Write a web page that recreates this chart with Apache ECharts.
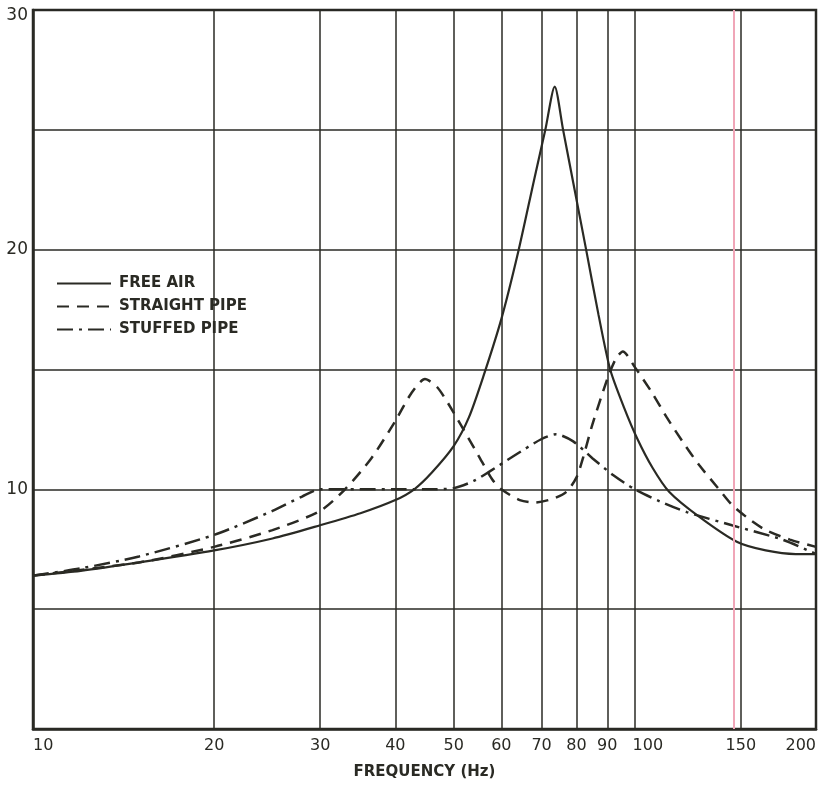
<!DOCTYPE html>
<html>
<head>
<meta charset="utf-8">
<script src="https://cdn.jsdelivr.net/npm/echarts@6/dist/echarts.min.js"></script>
<style>
  html, body { margin: 0; padding: 0; background: #fff; }
  #chart { width: 822px; height: 785px; }
</style>
</head>
<body>
<div id="chart"></div>
<script>
// frequency (Hz) / response pairs
const freeAirHz = [10, 12, 15, 20, 25, 30, 35, 40, 43, 46, 50, 53, 56, 60, 64, 68, 71, 73.6, 76, 79, 83, 87, 91, 96, 101, 107, 114, 128, 148, 165, 185, 200];
const freeAirVal = [6.4, 6.6, 6.95, 7.45, 7.95, 8.5, 9.0, 9.55, 10.0, 10.7, 11.8, 13.0, 14.7, 17.1, 19.9, 22.9, 25.0, 26.8, 25.0, 22.8, 20.0, 17.3, 15.0, 13.4, 12.1, 10.9, 9.9, 8.85, 7.8, 7.45, 7.3, 7.3];

const straightHz = [10, 15, 20, 25, 30, 33, 36.5, 40, 42.5, 44.8, 47, 50, 55, 58, 60, 64.4, 68, 73, 77, 80, 82, 85, 90, 93, 95.5, 100, 107, 113, 120, 128, 137, 145, 155, 165, 181, 200];
const straightVal = [6.4, 6.95, 7.6, 8.3, 9.1, 10.0, 11.3, 12.85, 14.0, 14.6, 14.25, 13.2, 11.4, 10.4, 10.0, 9.55, 9.45, 9.6, 9.9, 10.5, 11.3, 12.7, 14.6, 15.45, 15.75, 15.1, 14.0, 13.0, 12.0, 11.0, 10.1, 9.35, 8.75, 8.3, 7.9, 7.6];

const stuffedHz = [10, 12, 15, 20, 25, 28, 30, 35, 40, 45, 50, 54, 57.4, 63, 70, 74, 79, 85, 92, 100, 110, 122, 145, 176, 200];
const stuffedVal = [6.4, 6.7, 7.2, 8.1, 9.1, 9.7, 10.0, 10.0, 10.0, 10.0, 10.05, 10.35, 10.75, 11.4, 12.1, 12.3, 12.0, 11.3, 10.6, 10.0, 9.5, 9.05, 8.5, 7.9, 7.3];

const xTicks = [10, 20, 30, 40, 50, 60, 70, 80, 90, 100, 150, 200];
const yLabels = [10, 20, 30];

const ink = '#2a2a24';
const font = 'DejaVu Sans';

const chart = echarts.init(document.getElementById('chart'));

const pairs = (xs, ys) => xs.map((x, i) => [x, ys[i]]);

chart.setOption({
  backgroundColor: '#fff',
  animation: false,
  grid: {
    left: 33, right: 6, top: 10, bottom: 53,
    show: true, borderColor: ink, borderWidth: 2.5
  },
  legend: {
    orient: 'vertical',
    left: 51, top: 271,
    itemWidth: 54, itemHeight: 14, itemGap: 8,
    itemStyle: { opacity: 0 },
    textStyle: { color: ink, fontFamily: font, fontSize: 15, fontWeight: 'bold', padding: [0, 0, 0, 3] },
    data: ['FREE AIR', 'STRAIGHT PIPE', 'STUFFED PIPE']
  },
  xAxis: {
    type: 'log',
    logBase: 10,
    min: 10,
    max: 200,
    name: 'FREQUENCY (Hz)',
    nameLocation: 'middle',
    nameGap: 36,
    nameTextStyle: { color: ink, fontFamily: font, fontSize: 15, fontWeight: 'bold' },
    axisLine: { show: true, lineStyle: { color: ink, width: 2.5 } },
    axisTick: { show: false, customValues: xTicks },
    axisLabel: {
      customValues: xTicks,
      color: ink, fontFamily: font, fontSize: 16, margin: 9,
      alignMinLabel: 'left', alignMaxLabel: 'right',
      formatter: v => v === 100 ? '{shift|100}' : String(v),
      rich: { shift: { fontFamily: font, fontSize: 16, color: ink, padding: [0, 0, 0, 26] } }
    },
    splitLine: { show: true, lineStyle: { color: ink, width: 1.5 } }
  },
  yAxis: {
    type: 'value',
    min: 0, max: 30, interval: 5,
    axisLine: { show: true, lineStyle: { color: ink, width: 2.5 } },
    axisTick: { show: false },
    axisLabel: {
      color: ink, fontFamily: font, fontSize: 17, margin: 5,
      formatter: v => !yLabels.includes(v) ? '' : (v === 30 ? '{top|30}' : String(v)),
      rich: { top: { fontFamily: font, fontSize: 17, color: ink, padding: [11, 0, 0, 0] } }
    },
    splitLine: { show: true, lineStyle: { color: ink, width: 1.5 } }
  },
  series: [
    {
      name: 'FREE AIR',
      type: 'line',
      showSymbol: false, symbol: 'none',
      smooth: 0.25,
      lineStyle: { color: ink, width: 2.2 },
      itemStyle: { color: ink },
      data: pairs(freeAirHz, freeAirVal),
      markLine: {
        silent: true, symbol: 'none', label: { show: false },
        lineStyle: { color: '#f0a6b8', width: 2, type: 'solid' },
        data: [{ xAxis: 146 }]
      }
    },
    {
      name: 'STRAIGHT PIPE',
      type: 'line',
      showSymbol: false, symbol: 'none',
      smooth: 0.25,
      lineStyle: { color: ink, width: 2.5, type: [12, 8] },
      itemStyle: { color: ink },
      data: pairs(straightHz, straightVal)
    },
    {
      name: 'STUFFED PIPE',
      type: 'line',
      showSymbol: false, symbol: 'none',
      smooth: 0.25,
      lineStyle: { color: ink, width: 2.5, type: [16, 6, 3, 6] },
      itemStyle: { color: ink },
      data: pairs(stuffedHz, stuffedVal)
    }
  ]
});
</script>
</body>
</html>
